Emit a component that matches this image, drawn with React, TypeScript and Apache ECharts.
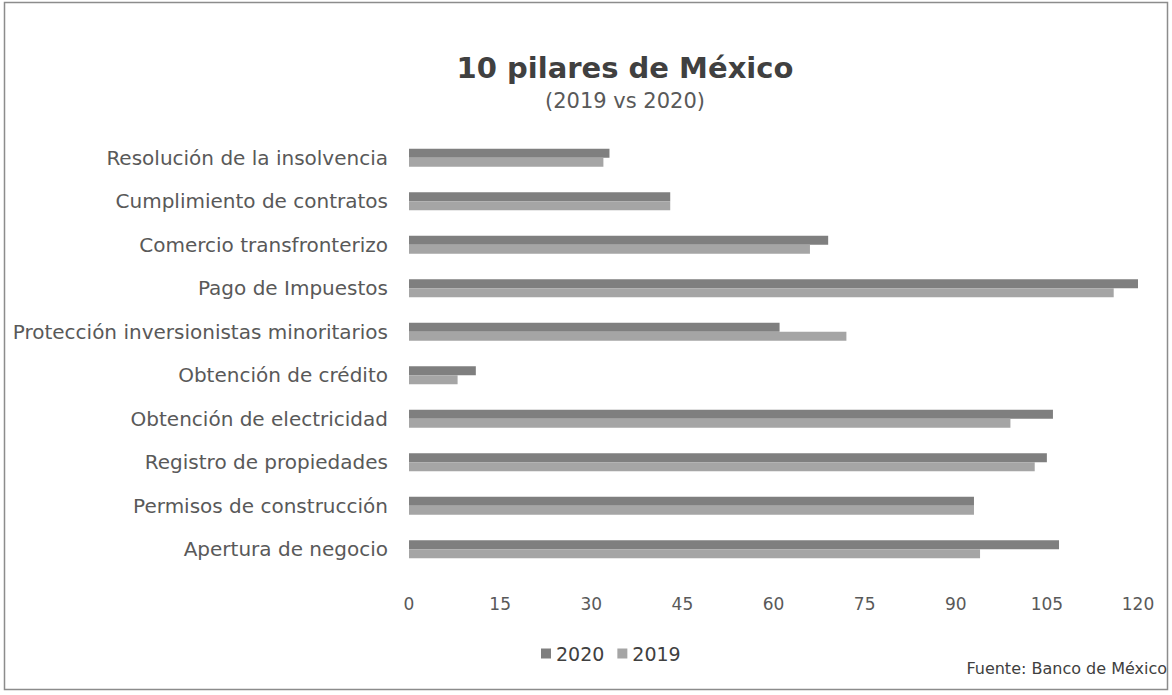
import React, { useEffect, useRef } from "react";
import * as echarts from "echarts";

const categories = [
  "Apertura de negocio",
  "Permisos de construcción",
  "Registro de propiedades",
  "Obtención de electricidad",
  "Obtención de crédito",
  "Protección inversionistas minoritarios",
  "Pago de Impuestos",
  "Comercio transfronterizo",
  "Cumplimiento de contratos",
  "Resolución de la insolvencia",
];
const values2020 = [107, 93, 105, 106, 11, 61, 120, 69, 43, 33];
const values2019 = [94, 93, 103, 99, 8, 72, 116, 66, 43, 32];
const legendNames = ["2020", "2019"];

const FONT = "'DejaVu Sans', sans-serif";

export default function App() {
  const ref = useRef<HTMLDivElement>(null);
  useEffect(() => {
    if (!ref.current) return;
    const chart = echarts.init(ref.current, null, { renderer: "svg" });
    chart.setOption({
      animation: false,
      backgroundColor: "#ffffff",
      textStyle: { fontFamily: FONT },
      title: {
        text: "10 pilares de México",
        subtext: "(2019 vs 2020)",
        left: 620,
        textAlign: "center",
        top: 48,
        itemGap: 8,
        textStyle: { fontSize: 29, fontWeight: "bold", color: "#404040", fontFamily: FONT },
        subtextStyle: { fontSize: 21, color: "#595959", fontFamily: FONT },
      },
      legend: {
        data: legendNames,
        left: 536,
        top: 639,
        itemWidth: 10,
        itemHeight: 10,
        itemGap: 13,
        icon: "rect",
        textStyle: { fontSize: 19, color: "#404040", fontFamily: FONT },
      },
      grid: { left: 409, right: 34, top: 136, bottom: 124, containLabel: false },
      xAxis: {
        type: "value",
        min: 0,
        max: 120,
        interval: 15,
        axisLine: { show: false },
        axisTick: { show: false },
        splitLine: { show: false },
        axisLabel: { fontSize: 17, color: "#595959", margin: 24, fontFamily: FONT },
      },
      yAxis: {
        type: "category",
        data: categories,
        axisLine: { show: false },
        axisTick: { show: false },
        axisLabel: { fontSize: 20, color: "#595959", margin: 21, fontFamily: FONT },
      },
      series: [
        {
          name: "2020",
          type: "bar",
          data: values2020,
          barWidth: 9,
          barGap: "0%",
          itemStyle: { color: "#7f7f7f" },
        },
        {
          name: "2019",
          type: "bar",
          data: values2019,
          barWidth: 9,
          barGap: "0%",
          itemStyle: { color: "#a5a5a5" },
        },
      ],
      graphic: [
        {
          type: "rect",
          shape: { x: 4.5, y: 2.5, width: 1163, height: 687 },
          style: { fill: "none", stroke: "#8c8c8c", lineWidth: 1.5 },
          silent: true,
        },
        {
          type: "text",
          right: 5,
          top: 660,
          style: { text: "Fuente: Banco de México", fontSize: 16, fill: "#404040", fontFamily: FONT },
        },
      ],
    });
    return () => chart.dispose();
  }, []);
  return (
    <div
      ref={ref}
      style={{ position: "fixed", left: 0, top: 0, width: 1172, height: 695 }}
    />
  );
}
